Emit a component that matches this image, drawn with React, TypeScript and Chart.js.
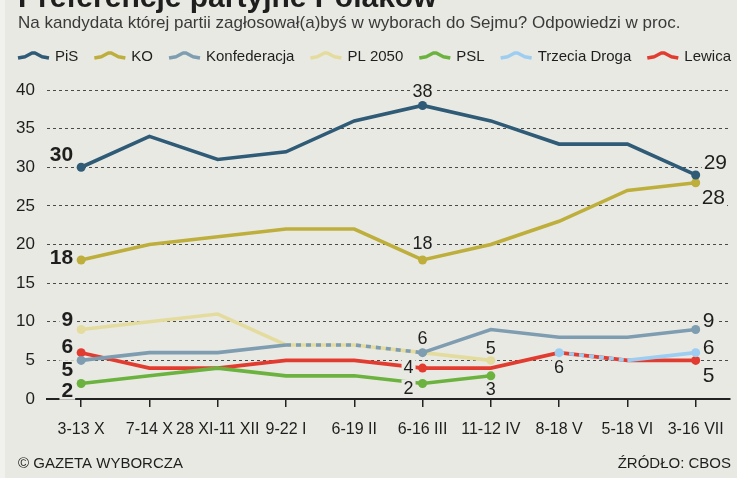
import React, { useEffect, useRef } from 'react';
import { Chart, registerables } from 'chart.js';

Chart.register(...registerables);

// ---------- data ----------
const categories = ['3-13 X', '7-14 X', '28 XI-11 XII', '9-22 I', '6-19 II', '6-16 III', '11-12 IV', '8-18 V', '5-18 VI', '3-16 VII'];
const seriesNames = ['PiS', 'KO', 'Konfederacja', 'PL 2050', 'PSL', 'Trzecia Droga', 'Lewica'];
const pis = [30, 34, 31, 32, 36, 38, 36, 33, 33, 29];
const ko = [18, 20, 21, 22, 22, 18, 20, 23, 27, 28];
const konfederacja = [5, 6, 6, 7, 7, 6, 9, 8, 8, 9];
const pl2050 = [9, 10, 11, 7, 7, 6, 5, null, null, null];
const psl = [2, 3, 4, 3, 3, 2, 3, null, null, null];
const trzeciaDroga = [null, null, null, null, null, null, null, 6, 5, 6];
const lewica = [6, 4, 4, 5, 5, 4, 4, 6, 5, 5];
const yTicks = [0, 5, 10, 15, 20, 25, 30, 35, 40];

const titleText = 'Preferencje partyjne Polaków';
const subtitleText = 'Na kandydata której partii zagłosował(a)byś w wyborach do Sejmu? Odpowiedzi w proc.';
const footerLeft = '© GAZETA WYBORCZA';
const footerRight = 'ŹRÓDŁO: CBOS';

// ---------- style ----------
const BG = '#e9e9e4';
const TEXT = '#1e1e1e';
const FONT = "'Liberation Sans', Arial, sans-serif";
const colors = ['#2f5b77', '#beae3c', '#7f9db1', '#e4dc9e', '#6bb33e', '#9dcef1', '#e23c30'];
const markerIdx = [[0, 5, 9], [0, 5, 9], [0, 5, 9], [0, 6], [0, 5, 6], [7, 9], [0, 5, 9]];
// dashed overlapping segments: [dataset, fromIndex, toIndex]
const dashedSegs = [[2, 3, 5], [5, 7, 8]];
const drawOrder = [0, 0, -1, 0, 0, -1, 0];

type Lbl = { ds: number; i: number; dx: number; dy: number; align: CanvasTextAlign; size: number; bold?: boolean };
const valueLabels: Lbl[] = [
  { ds: 0, i: 0, dx: -8, dy: -13, align: 'right', size: 21, bold: true },
  { ds: 1, i: 0, dx: -8, dy: -3, align: 'right', size: 21, bold: true },
  { ds: 3, i: 0, dx: -8, dy: -10, align: 'right', size: 21, bold: true },
  { ds: 6, i: 0, dx: -8, dy: -6, align: 'right', size: 21, bold: true },
  { ds: 2, i: 0, dx: -8, dy: 9, align: 'right', size: 21, bold: true },
  { ds: 4, i: 0, dx: -8, dy: 7, align: 'right', size: 21, bold: true },
  { ds: 0, i: 5, dx: 0, dy: -14, align: 'center', size: 18 },
  { ds: 1, i: 5, dx: 0, dy: -17, align: 'center', size: 18 },
  { ds: 2, i: 5, dx: 0, dy: -15, align: 'center', size: 18 },
  { ds: 6, i: 5, dx: -9, dy: -1, align: 'right', size: 18 },
  { ds: 4, i: 5, dx: -9, dy: 4, align: 'right', size: 18 },
  { ds: 3, i: 6, dx: 0, dy: -12, align: 'center', size: 18 },
  { ds: 4, i: 6, dx: 0, dy: 13, align: 'center', size: 18 },
  { ds: 5, i: 7, dx: 0, dy: 14, align: 'center', size: 18 },
  { ds: 0, i: 9, dx: 8, dy: -13, align: 'left', size: 21 },
  { ds: 1, i: 9, dx: 6, dy: 15, align: 'left', size: 21 },
  { ds: 2, i: 9, dx: 7, dy: -9, align: 'left', size: 21 },
  { ds: 5, i: 9, dx: 7, dy: -5, align: 'left', size: 21 },
  { ds: 6, i: 9, dx: 7, dy: 15, align: 'left', size: 21 },
];

const allSeries = [pis, ko, konfederacja, pl2050, psl, trzeciaDroga, lewica];

function drawChevron(ctx: CanvasRenderingContext2D, x: number, cy: number, color: string) {
  ctx.save();
  ctx.strokeStyle = color;
  ctx.lineWidth = 3.5;
  ctx.lineJoin = 'round';
  ctx.lineCap = 'butt';
  ctx.beginPath();
  ctx.moveTo(x, cy + 2.5);
  ctx.lineTo(x + 7, cy + 1.2);
  ctx.lineTo(x + 14, cy - 2.5);
  ctx.lineTo(x + 17, cy - 2.5);
  ctx.lineTo(x + 24, cy + 1.2);
  ctx.lineTo(x + 31, cy + 2.5);
  ctx.stroke();
  ctx.restore();
}

const decorPlugin = {
  id: 'decor',
  beforeDraw(chart: any) {
    const ctx: CanvasRenderingContext2D = chart.ctx;
    ctx.save();
    ctx.fillStyle = TEXT;
    ctx.textBaseline = 'alphabetic';
    ctx.textAlign = 'left';
    ctx.font = `bold 30px ${FONT}`;
    ctx.fillText(titleText, 18, 7);
    ctx.fillStyle = '#3a3a3a';
    ctx.font = `17px ${FONT}`;
    ctx.fillText(subtitleText, 18, 28);
    // legend
    ctx.font = `15px ${FONT}`;
    ctx.fillStyle = TEXT;
    let x = 18;
    const cy = 55.5;
    seriesNames.forEach((name, k) => {
      drawChevron(ctx, x, cy, colors[k]);
      ctx.textBaseline = 'middle';
      ctx.fillText(name, x + 37, cy + 1);
      x += 37 + ctx.measureText(name).width + 16;
    });
    // footer
    ctx.textBaseline = 'middle';
    ctx.font = `15px ${FONT}`;
    ctx.fillText(footerLeft, 18, 464);
    ctx.textAlign = 'right';
    ctx.fillText(footerRight, 731, 464);
    ctx.restore();
  },
  afterDatasetsDraw(chart: any) {
    const ctx: CanvasRenderingContext2D = chart.ctx;
    ctx.save();
    valueLabels.forEach((l) => {
      const pt = chart.getDatasetMeta(l.ds).data[l.i];
      const v = allSeries[l.ds][l.i];
      if (!pt || v == null) return;
      const text = String(v);
      ctx.font = `${l.bold ? 'bold ' : ''}${l.size}px ${FONT}`;
      const w = ctx.measureText(text).width;
      const x = pt.x + l.dx;
      const y = pt.y + l.dy;
      let left = x;
      if (l.align === 'right') left = x - w;
      if (l.align === 'center') left = x - w / 2;
      const h = l.size * 0.78;
      ctx.fillStyle = BG;
      ctx.fillRect(left - 2, y - h / 2 - 1, w + 4, h + 2);
      ctx.fillStyle = TEXT;
      ctx.textAlign = l.align;
      ctx.textBaseline = 'middle';
      ctx.fillText(text, x, y + 1);
    });
    ctx.restore();
  },
};

export default function App() {
  const ref = useRef<HTMLCanvasElement | null>(null);

  useEffect(() => {
    if (!ref.current) return;
    const datasets = allSeries.map((data, k) => {
      const radii = data.map((_, i) => (markerIdx[k].includes(i) ? 4.5 : 0));
      const dashes = dashedSegs.filter((d) => d[0] === k);
      return {
        label: seriesNames[k],
        data,
        borderColor: colors[k],
        backgroundColor: colors[k],
        pointBackgroundColor: colors[k],
        pointBorderWidth: 0,
        pointRadius: radii,
        pointHoverRadius: radii,
        borderWidth: 3.6,
        tension: 0,
        spanGaps: false,
        order: drawOrder[k],
        segment: {
          borderDash: (c: any) =>
            dashes.some((d) => c.p0DataIndex >= d[1] && c.p1DataIndex <= d[2]) ? [5, 5] : undefined,
        },
      };
    });

    const chart = new Chart(ref.current, {
      type: 'line',
      data: { labels: categories, datasets },
      options: {
        animation: false,
        responsive: false,
        devicePixelRatio: 1,
        layout: { padding: { top: 90, left: 2, right: 6, bottom: 38 } },
        plugins: {
          legend: { display: false },
          tooltip: { enabled: false },
          title: { display: false },
        },
        scales: {
          x: {
            offset: true,
            grid: { display: true, drawOnChartArea: false, drawTicks: true, tickLength: 8, color: '#222', lineWidth: 1.5, offset: false },
            border: { display: true, color: '#222', width: 2 },
            ticks: { color: TEXT, font: { size: 16, family: FONT }, padding: 13, maxRotation: 0, autoSkip: false },
            afterFit: (s: any) => { s.height = 41; },
          },
          y: {
            min: 0,
            max: 40,
            grid: { color: '#4a4a4a', lineWidth: 1, drawTicks: false },
            border: { display: false, dash: [3, 3] },
            ticks: { color: TEXT, font: { size: 17, family: FONT }, padding: 12 },
            afterBuildTicks: (s: any) => { s.ticks = yTicks.map((v) => ({ value: v })); },
            afterFit: (s: any) => { s.width = 45; },
          },
        },
      },
      plugins: [decorPlugin],
    } as any);
    return () => chart.destroy();
  }, []);

  return (
    <div style={{ position: 'fixed', left: 0, top: 0, width: 737, height: 478, background: BG, overflow: 'hidden' }}>
      <div style={{ position: 'absolute', left: 0, top: 0, width: 5, height: 478, background: '#f1f1ed' }} />
      <canvas ref={ref} width={737} height={478} style={{ position: 'absolute', left: 0, top: 0, display: 'block' }} />
    </div>
  );
}
